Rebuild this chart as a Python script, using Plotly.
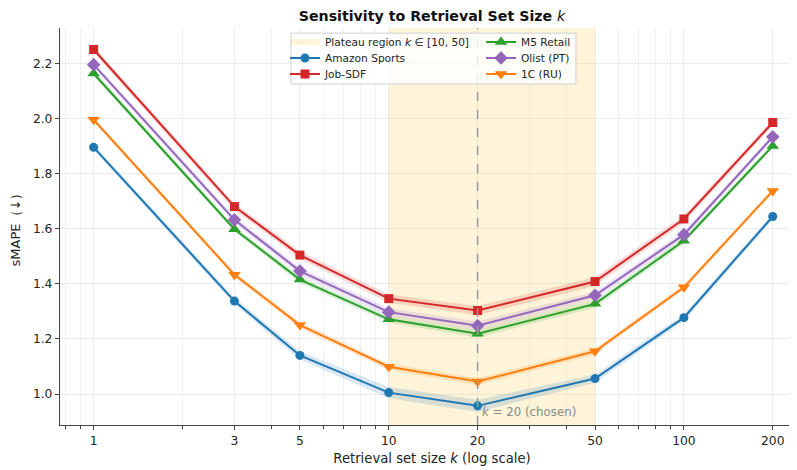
import math
import plotly.graph_objects as go

k_values = [1, 3, 5, 10, 20, 50, 100, 200]

amazon = [1.895, 1.337, 1.140, 1.005, 0.957, 1.056, 1.277, 1.644]
job_sdf = [2.250, 1.680, 1.504, 1.346, 1.303, 1.408, 1.635, 1.985]
m5 = [2.163, 1.598, 1.415, 1.271, 1.219, 1.327, 1.556, 1.900]
olist = [2.195, 1.632, 1.446, 1.297, 1.248, 1.358, 1.578, 1.933]
one_c = [1.995, 1.433, 1.250, 1.099, 1.045, 1.155, 1.387, 1.737]

amazon_sd = [0.010, 0.012, 0.015, 0.020, 0.022, 0.015, 0.012, 0.012]
job_sd = [0.012, 0.012, 0.014, 0.015, 0.016, 0.016, 0.014, 0.012]
m5_sd = [0.010, 0.010, 0.012, 0.012, 0.014, 0.014, 0.012, 0.010]
olist_sd = [0.010, 0.012, 0.014, 0.014, 0.015, 0.014, 0.012, 0.010]
one_c_sd = [0.008, 0.010, 0.012, 0.012, 0.012, 0.012, 0.010, 0.010]

x_tick_vals = [1, 3, 5, 10, 20, 50, 100, 200]
x_tick_text = ["1", "3", "5", "10", "20", "50", "100", "200"]
x_minor_vals = [0.8, 0.9, 2, 3, 4, 5, 6, 7, 8, 9, 30, 40, 50, 60, 70, 80, 90]
y_tick_vals = [1.0, 1.2, 1.4, 1.6, 1.8, 2.0, 2.2]

plateau = [10, 50]
chosen_k = 20

# legend slots (paper coords)
COL1, COL2 = 0.3024, 0.5659
ROWS = [0.9647, 0.9244, 0.8841]

series = [
    # name, values, sd, color, symbol, marker size, legend id
    ("Amazon Sports", amazon, amazon_sd, "#1f77b4", "circle", 9, "legend2"),
    ("Job-SDF", job_sdf, job_sd, "#d62728", "square", 9, "legend3"),
    ("M5 Retail", m5, m5_sd, "#2ca02c", "triangle-up", 11, "legend4"),
    ("Olist (PT)", olist, olist_sd, "#9467bd", "diamond", 10.5, "legend5"),
    ("1C (RU)", one_c, one_c_sd, "#ff7f0e", "triangle-down", 11, "legend6"),
]

Y_LO, Y_HI = 0.8875, 2.328
X_LO, X_HI = math.log10(1 / 1.3), 2.407

def rgba(hexc, a):
    h = hexc.lstrip("#")
    r, g, b = int(h[0:2], 16), int(h[2:4], 16), int(h[4:6], 16)
    return f"rgba({r},{g},{b},{a})"

fig = go.Figure()

# plateau region (also legend entry)
fig.add_trace(go.Scatter(
    x=[plateau[0], plateau[1], plateau[1], plateau[0], plateau[0]],
    y=[Y_LO - 1, Y_LO - 1, Y_HI + 1, Y_HI + 1, Y_LO - 1],
    fill="toself", mode="none",
    fillcolor="rgba(250,212,110,0.26)",
    name="Plateau region <i>k</i> ∈ [10, 50]",
    legend="legend", hoverinfo="skip",
))

# bands
for name, vals, sd, color, sym, msize, leg in series:
    upper = [v + s for v, s in zip(vals, sd)]
    lower = [v - s for v, s in zip(vals, sd)]
    fig.add_trace(go.Scatter(
        x=k_values + k_values[::-1], y=upper + lower[::-1],
        fill="toself", mode="none", fillcolor=rgba(color, 0.17),
        showlegend=False, hoverinfo="skip",
    ))

for name, vals, sd, color, sym, msize, leg in series:
    fig.add_trace(go.Scatter(
        x=k_values, y=vals, mode="lines+markers", name=name,
        line=dict(color=color, width=2),
        marker=dict(symbol=sym, size=msize, color=color),
        legend=leg,
    ))

# chosen k line
fig.add_shape(type="line", x0=chosen_k, x1=chosen_k, y0=0, y1=1,
              xref="x", yref="paper",
              line=dict(color="#999999", width=1.5, dash="dash"), layer="above")

fig.add_annotation(x=math.log10(chosen_k), y=0.935, xref="x", yref="y",
                   text="<i>k</i> = 20 (chosen)", showarrow=False,
                   xanchor="left", yanchor="middle", xshift=2,
                   font=dict(size=11.8, color="#888888"))

# legend box
fig.add_shape(type="rect", xref="paper", yref="paper",
              x0=0.3105, x1=0.6935, y0=0.859, y1=0.987,
              fillcolor="rgba(255,255,255,0.8)",
              line=dict(color="#d0d0d0", width=1), layer="above")

axis_line = "#444444"
grid = "#ebebeb"

legend_style = dict(xanchor="left", yanchor="middle", bgcolor="rgba(0,0,0,0)",
                    borderwidth=0, font=dict(size=10.6, color="#222222"))
slots = {
    "legend": (COL1, ROWS[0]), "legend2": (COL1, ROWS[1]), "legend3": (COL1, ROWS[2]),
    "legend4": (COL2, ROWS[0]), "legend5": (COL2, ROWS[1]), "legend6": (COL2, ROWS[2]),
}
legend_layout = {lid: dict(x=xy[0], y=xy[1], **legend_style) for lid, xy in slots.items()}

fig.update_layout(
    width=796, height=462,
    margin=dict(l=52, r=0, t=20, b=45),
    paper_bgcolor="white", plot_bgcolor="white",
    font=dict(family="DejaVu Sans", size=12, color="#222222"),
    title=dict(text="<b>Sensitivity to Retrieval Set Size </b><i>k</i>",
               xref="paper", x=0.5, xanchor="center", y=0.983, yanchor="middle",
               font=dict(size=14.2, color="#111111")),
    xaxis=dict(
        type="log", range=[X_LO, X_HI],
        tickmode="array", tickvals=x_tick_vals, ticktext=x_tick_text,
        ticks="outside", ticklen=4, tickcolor=axis_line,
        showgrid=True, gridcolor=grid, gridwidth=1,
        showline=True, linecolor=axis_line, linewidth=1.2,
        zeroline=False,
        minor=dict(tickvals=x_minor_vals, ticks="outside", ticklen=2.5,
                   tickcolor=axis_line, showgrid=True, gridcolor="#f0f0f0"),
        title=dict(text="Retrieval set size <i>k</i> (log scale)",
                   font=dict(size=13.2), standoff=6),
        tickfont=dict(size=12.3),
    ),
    yaxis=dict(
        range=[Y_LO, Y_HI],
        tickmode="array", tickvals=y_tick_vals,
        tickformat=".1f",
        ticks="outside", ticklen=4, tickcolor=axis_line,
        showgrid=True, gridcolor=grid, gridwidth=1,
        showline=True, linecolor=axis_line, linewidth=1.2,
        zeroline=False,
        title=dict(text="sMAPE（↓）", font=dict(size=13), standoff=10),
        tickfont=dict(size=12.3),
    ),
    showlegend=True,
    **legend_layout,
)

fig.write_html("out.html")
